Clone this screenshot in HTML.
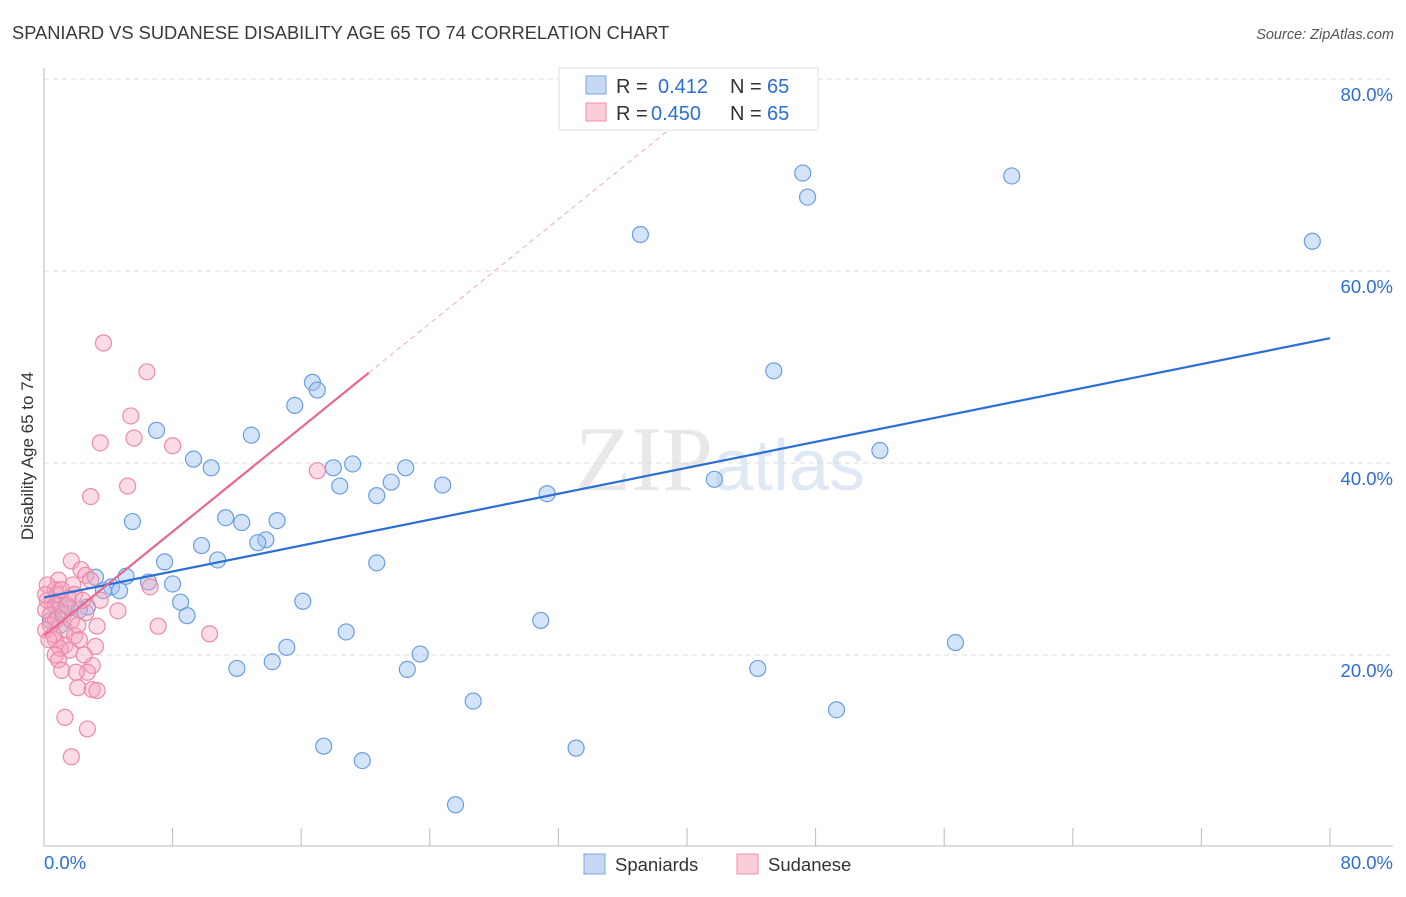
<!DOCTYPE html>
<html><head><meta charset="utf-8"><style>
html,body{margin:0;padding:0;background:#fff;}
body{width:1406px;height:892px;overflow:hidden;font-family:"Liberation Sans",sans-serif;}
</style></head><body>
<svg id="chart" width="1406" height="892" xmlns="http://www.w3.org/2000/svg" style="font-family:'Liberation Sans',sans-serif">
<text x="12" y="39" font-size="18.3" fill="#3a3a3a">SPANIARD VS SUDANESE DISABILITY AGE 65 TO 74 CORRELATION CHART</text>
<text x="1394" y="39" font-size="14.5" font-style="italic" fill="#555" text-anchor="end">Source: ZipAtlas.com</text>
<text x="720" y="490" font-size="92" fill="#e8e8e8" text-anchor="middle" font-family="'Liberation Serif',serif">ZIP<tspan fill="#dfe8f5" font-family="'Liberation Sans',sans-serif" font-size="72">atlas</tspan></text>
<g id="grid"></g>
<g id="axes"></g>
<g id="pts-blue"></g>
<g id="pts-pink"></g>
<g id="trends"></g>
<text transform="translate(33,456) rotate(-90)" font-size="17" fill="#333" text-anchor="middle">Disability Age 65 to 74</text>
<g>
<rect x="559" y="68" width="259" height="62" fill="#fff" stroke="#ddd"/>
<rect x="586" y="76" width="20" height="18" fill="#c5d9f5" stroke="#7aa6e0"/>
<text x="616" y="93" font-size="20" fill="#333">R = </text><text x="658" y="93" font-size="20" fill="#2b6fd6">0.412</text>
<text x="730" y="93" font-size="20" fill="#333">N = </text><text x="767" y="93" font-size="20" fill="#2b6fd6">65</text>
<rect x="586" y="103" width="20" height="18" fill="#fbcdd9" stroke="#ec90ab"/>
<text x="616" y="120" font-size="20" fill="#333">R = </text><text x="651" y="120" font-size="20" fill="#2b6fd6">0.450</text>
<text x="730" y="120" font-size="20" fill="#333">N = </text><text x="767" y="120" font-size="20" fill="#2b6fd6">65</text>
</g>
<g>
<rect x="584" y="854" width="21" height="20" fill="#c5d9f5" stroke="#7aa6e0"/>
<text x="615" y="871" font-size="18.5" fill="#333">Spaniards</text>
<rect x="737" y="854" width="21" height="20" fill="#fbcdd9" stroke="#ec90ab"/>
<text x="768" y="871" font-size="18.5" fill="#333">Sudanese</text>
</g>
</svg>
<script>
const blueX=[47.2,60.2,47.5,37.1,78.9,45.4,16.7,17.0,15.6,7.0,12.9,9.3,52.0,10.4,18.0,19.2,22.5,21.6,18.4,24.8,20.7,41.7,31.3,5.5,11.3,12.3,14.5,13.8,13.3,9.8,10.8,7.5,20.7,5.1,3.2,6.5,8.0,4.2,3.7,4.7,8.5,16.1,8.9,2.7,1.1,30.9,18.8,15.1,23.4,56.7,12.0,14.2,22.6,44.4,26.7,49.3,17.4,33.1,19.8,25.6,0.7,1.6,2.2,0.4,1.0];
const blueY=[70.2,69.9,67.7,63.8,63.1,49.6,48.4,47.6,46.0,43.4,42.9,40.4,41.3,39.5,39.5,39.9,39.5,38.0,37.6,37.7,36.6,38.3,36.8,33.9,34.3,33.8,34.0,32.0,31.7,31.4,29.9,29.7,29.6,28.2,28.1,27.6,27.4,27.1,26.7,26.7,25.5,25.6,24.1,25.0,24.5,23.6,22.4,20.8,20.1,21.3,18.6,19.3,18.5,18.6,15.2,14.3,10.5,10.3,9.0,4.4,25.2,24.9,24.7,23.6,23.1];
const pinkX=[3.7,6.4,5.4,5.6,3.5,8.0,5.2,17.0,2.9,1.7,2.3,0.9,1.8,0.7,6.6,4.6,2.6,7.1,3.3,10.3,1.3,1.9,0.7,1.3,2.2,1.0,0.7,1.6,0.9,3.0,2.7,1.1,2.1,3.0,3.3,2.0,1.3,2.7,1.7,0.2,0.5,0.1,0.4,0.7,1.0,1.5,1.9,2.4,2.6,0.4,0.1,0.6,1.2,1.7,2.1,0.2,0.8,1.4,2.9,3.5,0.1,0.3,3.2,1.1,2.5];
const pinkY=[52.5,49.5,44.9,42.6,42.1,41.8,37.6,39.2,36.5,29.8,28.9,27.8,27.3,26.8,27.1,24.6,24.4,23.0,23.0,22.2,22.6,22.0,21.6,21.0,21.6,20.7,20.0,20.5,19.5,18.9,18.2,18.4,16.6,16.4,16.3,18.2,13.5,12.3,9.4,25.7,25.4,24.7,24.2,23.6,25.2,25.9,26.3,25.7,28.3,23.1,22.6,22.1,24.2,23.6,23.1,27.3,26.3,25.2,27.8,25.7,26.3,21.6,20.9,26.8,20.0];
const blueTrend=[26.0,0.3375]; // intercept, slope
const pinkTrend=[22.0,1.356];
const yTicks=[20,40,60,80];
const yTickLabels=["20.0%","40.0%","60.0%","80.0%"];
const NS="http://www.w3.org/2000/svg";
const X=v=>44+v*16.075, Y=v=>847-v*9.6;
function mk(t,a,p){const e=document.createElementNS(NS,t);for(const k in a)e.setAttribute(k,a[k]);p.appendChild(e);return e;}
const grid=document.getElementById('grid'),axes=document.getElementById('axes');
yTicks.forEach((t,i)=>{
 const l=mk('line',{x1:44,x2:1393,y1:Y(t),y2:Y(t),stroke:'#ddd','stroke-dasharray':'5,4'},grid);
 
 
 const tx=mk('text',{x:1393,y:Y(t)+22,'font-size':18.5,fill:'#2b6fd6','text-anchor':'end'},axes);
 tx.textContent=yTickLabels[i];
 
 
});
mk('line',{x1:44,x2:1393,y1:846,y2:846,stroke:'#bbb'},axes);
mk('line',{x1:44,x2:44,y1:68,y2:846,stroke:'#bbb'},axes);
for(let v=0;v<=80;v+=8){const x=X(v);const t=mk('line',{x1:x,x2:x,y1:828,y2:846,stroke:'#bbb'},axes);
 
 }
const x0=mk('text',{x:44,y:869,'font-size':18.5,fill:'#2b6fd6'},axes);x0.textContent='0.0%';


const x1=mk('text',{x:1393,y:869,'font-size':18.5,fill:'#2b6fd6','text-anchor':'end'},axes);x1.textContent='80.0%';


function pts(xs,ys,g,fill,stroke,name){xs.forEach((x,i)=>{const c=mk('circle',{cx:X(x),cy:Y(ys[i]),r:8,fill:fill,stroke:stroke,'stroke-width':1.2},g);
 
 });}
pts(blueX,blueY,document.getElementById('pts-blue'),'rgba(160,195,240,0.45)','#6a9ee0','spaniards-point');
pts(pinkX,pinkY,document.getElementById('pts-pink'),'rgba(245,165,190,0.4)','#ec8aa8','sudanese-point');
const tr=document.getElementById('trends');
const bl=mk('line',{x1:X(0),y1:Y(blueTrend[0]),x2:X(80),y2:Y(blueTrend[0]+80*blueTrend[1]),stroke:'#2b6fd6','stroke-width':2.2},tr);


const pl=mk('line',{x1:X(0),y1:Y(pinkTrend[0]),x2:X(20.2),y2:Y(pinkTrend[0]+20.2*pinkTrend[1]),stroke:'#e8668f','stroke-width':2.2},tr);


const pd=mk('line',{x1:X(20.2),y1:Y(pinkTrend[0]+20.2*pinkTrend[1]),x2:X(40),y2:Y(pinkTrend[0]+40*pinkTrend[1]),stroke:'#eeaabd','stroke-width':1,'stroke-dasharray':'5,4'},tr);


</script>
</body></html>
